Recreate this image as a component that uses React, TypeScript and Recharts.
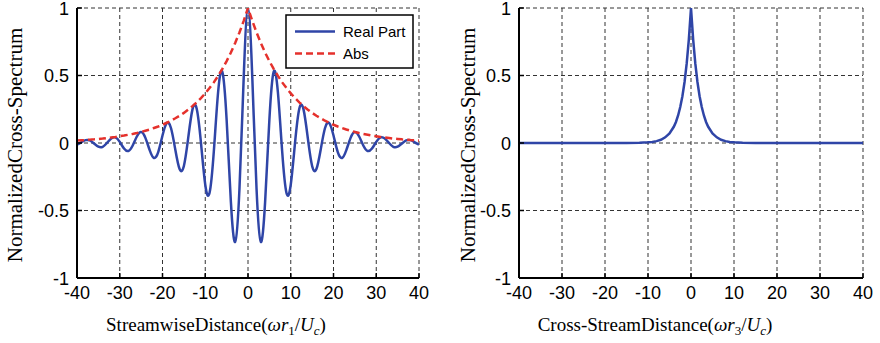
import { CartesianGrid, Line, LineChart, XAxis, YAxis } from 'recharts';

// streamwise separation (omega r1 / Uc)
const streamX = [
	-40, -39, -38, -37, -36, -35, -34, -33, -32, -31, -30, -29, -28, -27, -26, -25, -24, -23, -22, -21,
	-20, -19, -18, -17, -16, -15, -14, -13, -12, -11, -10, -9, -8, -7, -6, -5, -4, -3, -2, -1, 0,
	1, 2, 3, 4, 5, 6, 7, 8, 9, 10, 11, 12, 13, 14, 15, 16, 17, 18, 19, 20,
	21, 22, 23, 24, 25, 26, 27, 28, 29, 30, 31, 32, 33, 34, 35, 36, 37, 38, 39, 40,
];

const realPart = [
	-0.012, 0.005, 0.021, 0.019, -0.004, -0.027, -0.028, 0.0, 0.034, 0.041, 0.008, -0.041, -0.059, -0.02, 0.048, 0.081, 0.038, -0.053, -0.111, -0.067,
	0.055, 0.148, 0.109, -0.05, -0.193, -0.17, 0.034, 0.247, 0.254, 0.001, -0.309, -0.37, -0.065, 0.374, 0.527, 0.172, -0.438, -0.733, -0.341, 0.489, 1.0,
	0.489, -0.341, -0.733, -0.438, 0.172, 0.527, 0.374, -0.065, -0.37, -0.309, 0.001, 0.254, 0.247, 0.034, -0.17, -0.193, -0.05, 0.109, 0.148, 0.055,
	-0.067, -0.111, -0.053, 0.038, 0.081, 0.048, -0.02, -0.059, -0.041, 0.008, 0.041, 0.034, 0.0, -0.028, -0.027, -0.004, 0.019, 0.021, 0.005, -0.012,
];

const absPart = [
	0.018, 0.02, 0.022, 0.025, 0.027, 0.03, 0.033, 0.037, 0.041, 0.045, 0.05, 0.055, 0.061, 0.067, 0.074, 0.082, 0.091, 0.1, 0.111, 0.122,
	0.135, 0.15, 0.165, 0.183, 0.202, 0.223, 0.247, 0.273, 0.301, 0.333, 0.368, 0.407, 0.449, 0.497, 0.549, 0.607, 0.67, 0.741, 0.819, 0.905, 1.0,
	0.905, 0.819, 0.741, 0.67, 0.607, 0.549, 0.497, 0.449, 0.407, 0.368, 0.333, 0.301, 0.273, 0.247, 0.223, 0.202, 0.183, 0.165, 0.15, 0.135,
	0.122, 0.111, 0.1, 0.091, 0.082, 0.074, 0.067, 0.061, 0.055, 0.05, 0.045, 0.041, 0.037, 0.033, 0.03, 0.027, 0.025, 0.022, 0.02, 0.018,
];

// cross-stream separation (omega r3 / Uc)
const crossX = [
	-40, -30, -20, -15, -12, -10, -9, -8, -7, -6, -5, -4, -3.5, -3, -2.5, -2, -1.5, -1, -0.5, 0,
	0.5, 1, 1.5, 2, 2.5, 3, 3.5, 4, 5, 6, 7, 8, 9, 10, 12, 15, 20, 30, 40,
];

const crossSpectrum = [
	0, 0, 0, 0, 0.002, 0.005, 0.008, 0.014, 0.024, 0.042, 0.071, 0.12, 0.156, 0.204, 0.266, 0.346, 0.452, 0.589, 0.767, 1,
	0.767, 0.589, 0.452, 0.346, 0.266, 0.204, 0.156, 0.12, 0.071, 0.042, 0.024, 0.014, 0.008, 0.005, 0.002, 0, 0, 0, 0,
];

const xTicks = [-40, -30, -20, -10, 0, 10, 20, 30, 40];
const yTicks = [-1, -0.5, 0, 0.5, 1];

const streamRows = streamX.map((x, i) => ({ x, real: realPart[i], abs: absPart[i] }));
const crossRows = crossX.map((x, i) => ({ x, value: crossSpectrum[i] }));

const BLUE = '#2f45a7';
const RED = '#e5312c';
const sans = '"Liberation Sans", Arial, Helvetica, sans-serif';
const serif = '"Liberation Serif", "Times New Roman", serif';
const border = { stroke: '#000', strokeWidth: 2 };

// ticks point into the plot, labels sit outside
const BottomTick = (p: any) => (
	<g>
		<line x1={p.x} y1={p.y} x2={p.x} y2={p.y - 5} stroke="#000" strokeWidth={1.5} />
		<text x={p.x} y={p.y + 21} textAnchor="middle" fontFamily={sans} fontSize={18} fill="#000">
			{p.payload.value}
		</text>
	</g>
);
const TopTick = (p: any) => <line x1={p.x} y1={p.y} x2={p.x} y2={p.y + 5} stroke="#000" strokeWidth={1.5} />;
const LeftTick = (p: any) => (
	<g>
		<line x1={p.x} y1={p.y} x2={p.x + 5} y2={p.y} stroke="#000" strokeWidth={1.5} />
		<text x={p.x - 8} y={p.y + 6.5} textAnchor="end" fontFamily={sans} fontSize={18} fill="#000">
			{p.payload.value}
		</text>
	</g>
);
const RightTick = (p: any) => <line x1={p.x} y1={p.y} x2={p.x - 5} y2={p.y} stroke="#000" strokeWidth={1.5} />;

const Panel = ({ data, axisWidth, rightGap, children }: any) => (
	<LineChart width={440} height={343} data={data} margin={{ top: 8, right: rightGap, bottom: 0, left: 0 }}>
		<CartesianGrid stroke="#333" strokeDasharray="4 3" strokeWidth={1} />
		<XAxis
			dataKey="x"
			type="number"
			domain={[-40, 40]}
			ticks={xTicks}
			interval={0}
			allowDataOverflow
			height={65}
			tickSize={0}
			tickMargin={0}
			tickLine={false}
			axisLine={border}
			tick={BottomTick}
		/>
		<XAxis
			xAxisId="top"
			orientation="top"
			type="number"
			domain={[-40, 40]}
			ticks={xTicks}
			interval={0}
			height={0}
			tickSize={0}
			tickMargin={0}
			tickLine={false}
			axisLine={border}
			tick={TopTick}
		/>
		<YAxis
			type="number"
			domain={[-1, 1]}
			ticks={yTicks}
			interval={0}
			allowDataOverflow
			width={axisWidth}
			tickSize={0}
			tickMargin={0}
			tickLine={false}
			axisLine={border}
			tick={LeftTick}
		/>
		<YAxis
			yAxisId="right"
			orientation="right"
			type="number"
			domain={[-1, 1]}
			ticks={yTicks}
			interval={0}
			width={0}
			tickSize={0}
			tickMargin={0}
			tickLine={false}
			axisLine={border}
			tick={RightTick}
		/>
		{children}
	</LineChart>
);

const YTitle = ({ x }: { x: number }) => (
	<text x={x} y={145} transform={`rotate(-90 ${x} 145)`} textAnchor="middle" fontFamily={serif} fontSize={21} fill="#000">
		NormalizedCross-Spectrum
	</text>
);

const XTitle = ({ cx, lead, sub }: { cx: number; lead: string; sub: string }) => (
	<text x={cx} y={331} textAnchor="middle" fontFamily={serif} fontSize={19} fill="#000">
		{lead}(<tspan fontStyle="italic">ωr</tspan>
		<tspan fontSize={13} dy={4}>{sub}</tspan>
		<tspan dy={-4}>/</tspan>
		<tspan fontStyle="italic">U</tspan>
		<tspan fontStyle="italic" fontSize={13} dy={4}>c</tspan>
		<tspan dy={-4}>)</tspan>
	</text>
);

export default function App() {
	return (
		<div style={{ position: 'absolute', left: 0, top: 0, width: 880, height: 343, background: '#fff' }}>
			<div style={{ position: 'absolute', left: 0, top: 0 }}>
				<Panel data={streamRows} axisWidth={77} rightGap={21}>
					<Line dataKey="real" type="natural" stroke={BLUE} strokeWidth={2.5} dot={false} isAnimationActive={false} />
					<Line
						dataKey="abs"
						type="linear"
						stroke={RED}
						strokeWidth={2.5}
						strokeDasharray="7 4"
						dot={false}
						isAnimationActive={false}
					/>
				</Panel>
			</div>
			<div style={{ position: 'absolute', left: 440, top: 0 }}>
				<Panel data={crossRows} axisWidth={79} rightGap={17}>
					<Line dataKey="value" type="linear" stroke={BLUE} strokeWidth={2.5} dot={false} isAnimationActive={false} />
				</Panel>
			</div>
			<svg width={880} height={343} style={{ position: 'absolute', left: 0, top: 0, pointerEvents: 'none' }}>
				<YTitle x={22} />
				<YTitle x={475} />
				<XTitle cx={216} lead="StreamwiseDistance" sub="1" />
				<XTitle cx={655} lead="Cross-StreamDistance" sub="3" />
				{/* legend */}
				<rect x={286} y={15} width={127} height={53} fill="#fff" stroke="#000" strokeWidth={1.5} />
				<line x1={295} y1={31.5} x2={335} y2={31.5} stroke={BLUE} strokeWidth={2.5} />
				<text x={343} y={36.5} fontFamily={sans} fontSize={15} fill="#000">
					Real Part
				</text>
				<line x1={295} y1={53.5} x2={335} y2={53.5} stroke={RED} strokeWidth={2.5} strokeDasharray="7 4" />
				<text x={343} y={58.5} fontFamily={sans} fontSize={15} fill="#000">
					Abs
				</text>
			</svg>
		</div>
	);
}
